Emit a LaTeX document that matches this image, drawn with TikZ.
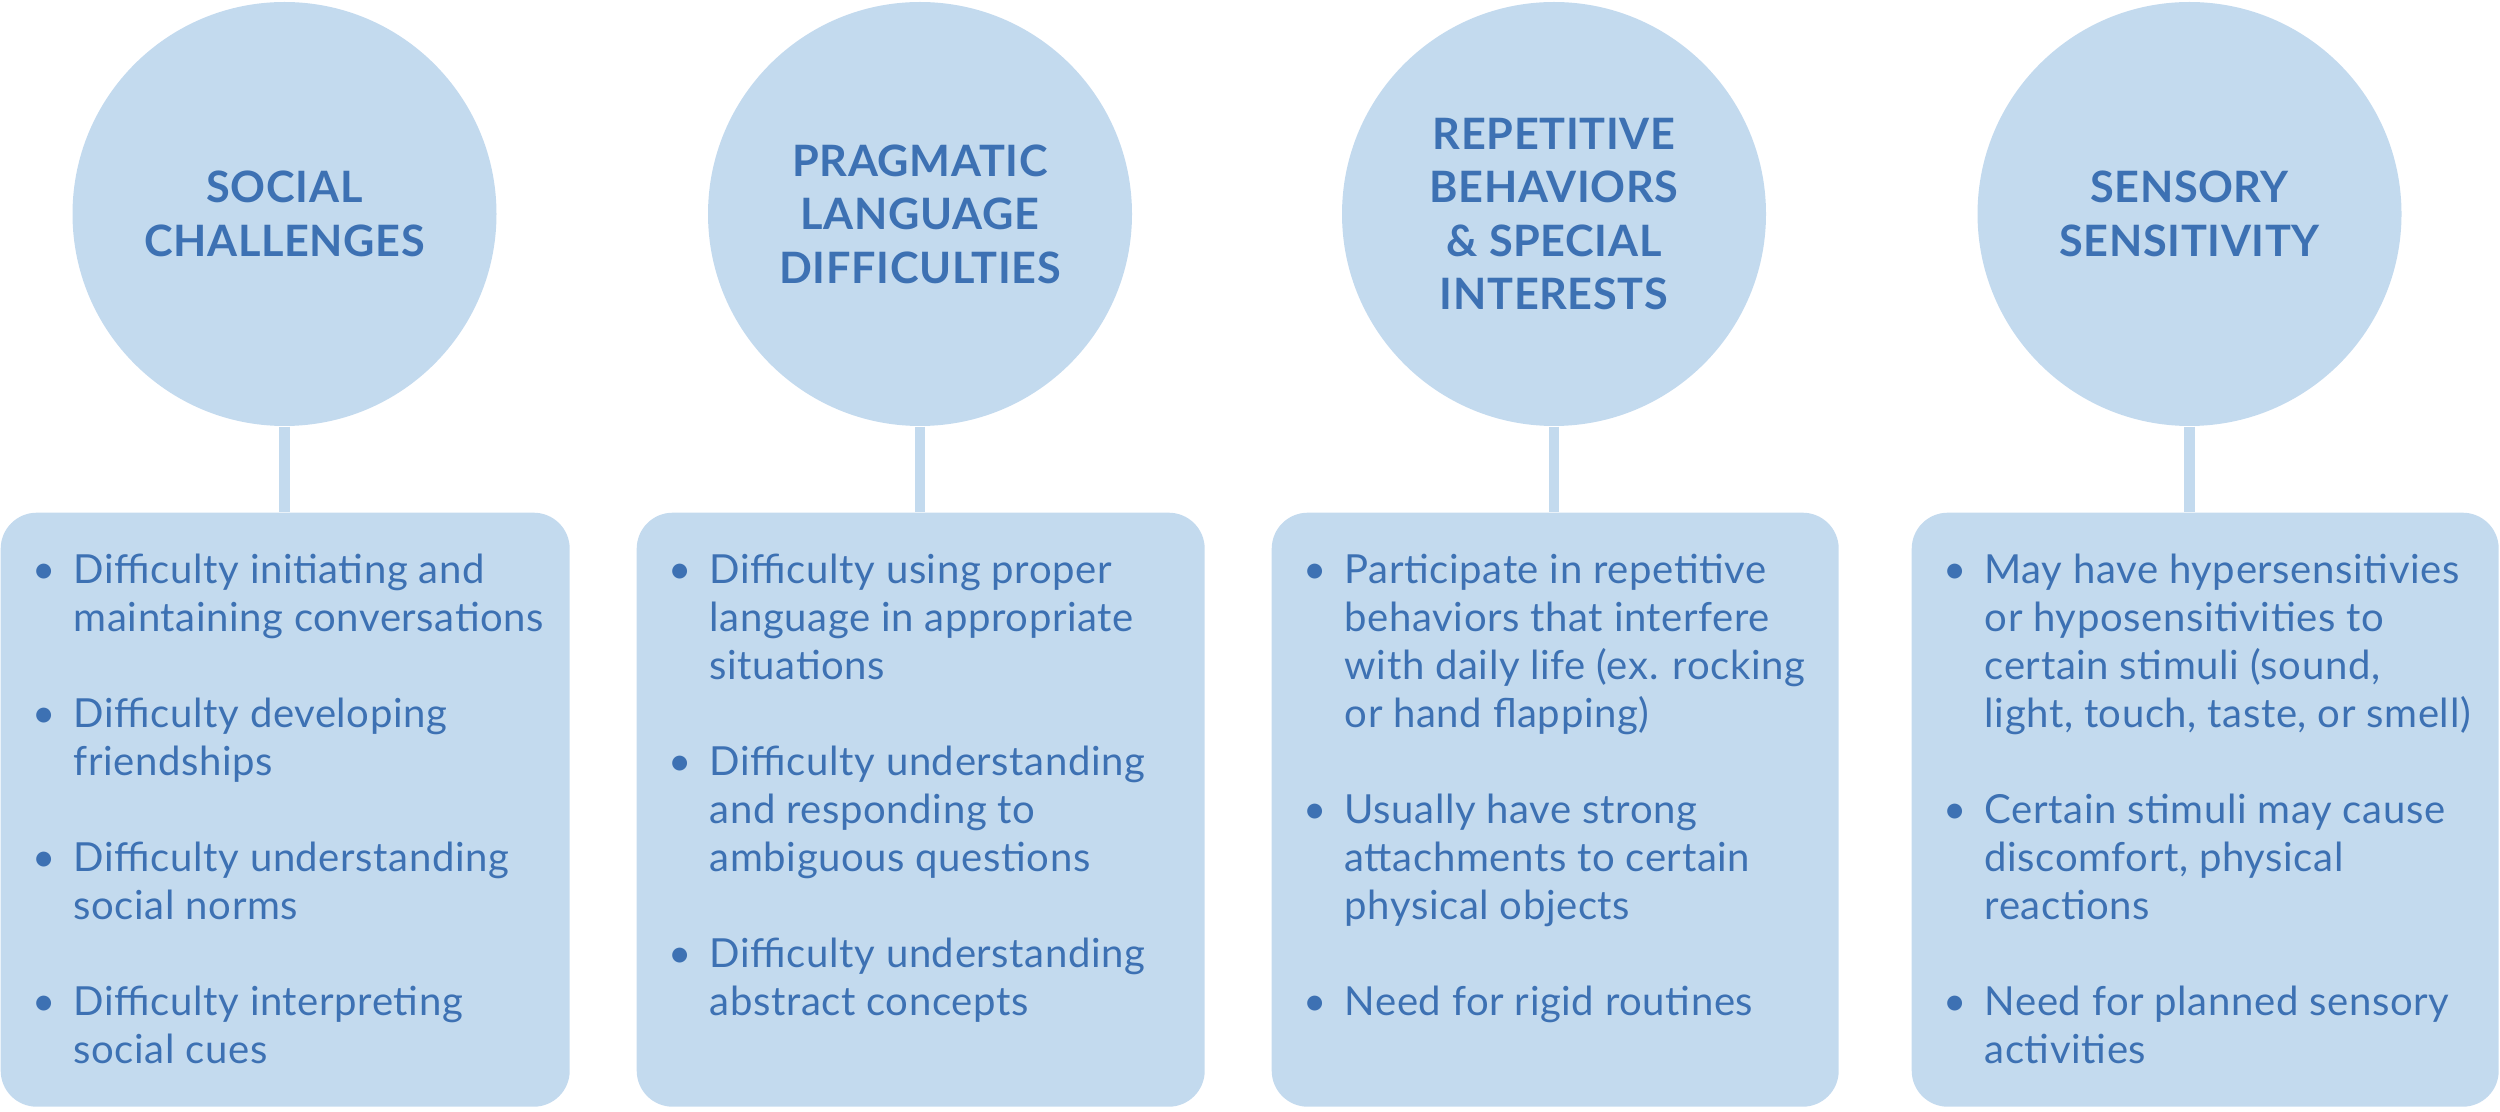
\documentclass[tikz,border=0pt]{standalone}
\usepackage{fontspec}
\setmainfont{Lato}[LetterSpace=1.5]
\usepackage{xcolor}
\usetikzlibrary{positioning}

\definecolor{paleblue}{HTML}{C3DAEE}
\definecolor{inkblue}{HTML}{3D71B3}

\newcommand{\itm}{\makebox[0.6cm][c]{\textbullet}}

\begin{document}
\begin{tikzpicture}[
    hub/.style={circle, fill=paleblue, minimum size=4.24cm, inner sep=0pt,
      align=center, text=inkblue, font=\fontsize{12.3}{15.2}\selectfont\bfseries},
    panel/.style={fill=paleblue, rounded corners=0.36cm, minimum height=5.94cm,
      inner sep=0pt, anchor=north west},
    points/.style={inner sep=0pt, text=inkblue, align=left,
      font=\fontsize{11.4}{13.66}\selectfont},
    stem/.style={paleblue, line width=0.105cm}
  ]
  \useasboundingbox (0,0) rectangle (25,-11.12);

  % Circles
  \node[hub] (c1) at (2.845,-2.14) {SOCIAL\\CHALLENGES};
  \node[hub] (c2) at (9.2,-2.14) {PRAGMATIC\\LANGUAGE\\DIFFICULTIES};
  \node[hub] (c3) at (15.54,-2.14) {REPETITIVE\\BEHAVIORS\\\& SPECIAL\\INTERESTS};
  \node[hub] (c4) at (21.895,-2.14) {SENSORY\\SENSITIVITY};

  % Boxes
  \node[panel, minimum width=5.69cm] (b1) at (0,-5.12) {};
  \node[panel, minimum width=5.68cm] (b2) at (6.36,-5.12) {};
  \node[panel, minimum width=5.67cm] (b3) at (12.71,-5.12) {};
  \node[panel, minimum width=5.87cm] (b4) at (19.11,-5.12) {};

  % Stems
  \draw[stem] (c1.south) -- (c1.south |- b1.north);
  \draw[stem] (c2.south) -- (c2.south |- b2.north);
  \draw[stem] (c3.south) -- (c3.south |- b3.north);
  \draw[stem] (c4.south) -- (c4.south |- b4.north);

  % Bullet lists
  \node[points, below right=0.41cm and 0.13cm of b1.north west] (l1) {%
    \itm Difficulty initiating and\\
    \hspace*{0.6cm}maintaining conversations\\[13.66pt]
    \itm Difficulty developing\\
    \hspace*{0.6cm}friendships\\[13.66pt]
    \itm Difficulty understanding\\
    \hspace*{0.6cm}social norms\\[13.66pt]
    \itm Difficulty interpreting\\
    \hspace*{0.6cm}social cues};
  \node[points, below right=0.41cm and 0.13cm of b2.north west] (l2) {%
    \itm Difficulty using proper\\
    \hspace*{0.6cm}language in appropriate\\
    \hspace*{0.6cm}situations\\[13.66pt]
    \itm Difficulty understanding\\
    \hspace*{0.6cm}and responding to\\
    \hspace*{0.6cm}ambiguous questions\\[13.66pt]
    \itm Difficulty understanding\\
    \hspace*{0.6cm}abstract concepts};
  \node[points, below right=0.41cm and 0.13cm of b3.north west] (l3) {%
    \itm Participate in repetitive\\
    \hspace*{0.6cm}behaviors that interfere\\
    \hspace*{0.6cm}with daily life (ex. rocking\\
    \hspace*{0.6cm}or hand flapping)\\[13.66pt]
    \itm Usually have strong\\
    \hspace*{0.6cm}attachments to certain\\
    \hspace*{0.6cm}physical objects\\[13.66pt]
    \itm Need for rigid routines};
  \node[points, below right=0.41cm and 0.13cm of b4.north west] (l4) {%
    \itm May have hypersensitivies\\
    \hspace*{0.6cm}or hyposensitivities to\\
    \hspace*{0.6cm}certain stimuli (sound,\\
    \hspace*{0.6cm}light, touch, taste, or smell)\\[13.66pt]
    \itm Certain stimuli may cause\\
    \hspace*{0.6cm}discomfort, physical\\
    \hspace*{0.6cm}reactions\\[13.66pt]
    \itm Need for planned sensory\\
    \hspace*{0.6cm}activities};
\end{tikzpicture}
\end{document}
